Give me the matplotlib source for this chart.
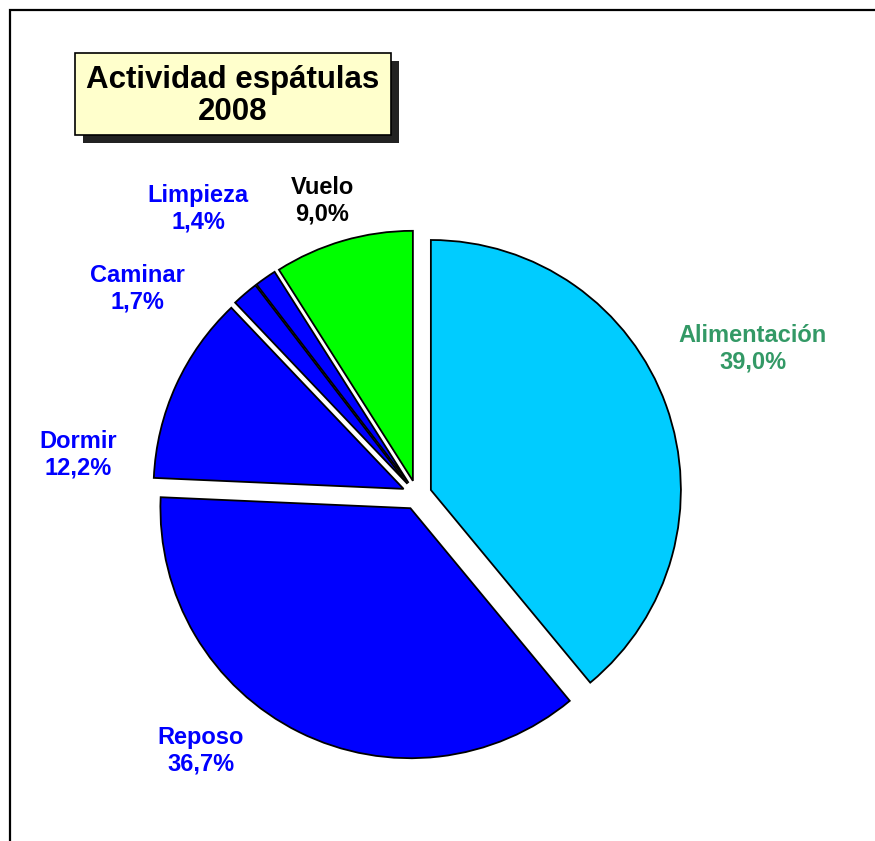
import matplotlib
matplotlib.use("Agg")
import matplotlib.pyplot as plt
from matplotlib.patches import Rectangle

plt.rcParams['font.family'] = ['Liberation Sans', 'DejaVu Sans']

# data
labels = ["Alimentación", "Reposo", "Dormir", "Caminar", "Limpieza", "Vuelo"]
values = [39.0, 36.7, 12.2, 1.7, 1.4, 9.0]
colors = ["#00CCFF", "#0000FF", "#0000FF", "#0000FF", "#0000FF", "#00FF00"]
text_colors = ["#339966", "#0000FF", "#0000FF", "#0000FF", "#0000FF", "#000000"]
# label centres in pixels (x, y from top)
label_pos = [(753, 349), (201, 751), (78, 455), (137, 289), (198, 209), (322, 201)]

W, H = 875, 841
R = 250
fig = plt.figure(figsize=(W / 100, H / 100), dpi=100)
ax = fig.add_axes([0, 0, 1, 1])

wedges, _ = ax.pie(values, colors=colors, startangle=90, counterclock=False,
                   explode=[14.75] * len(values), radius=R, center=(417, H - 495),
                   wedgeprops=dict(edgecolor="black", linewidth=1.3),
                   frame=True)
ax.set_xlim(0, W)
ax.set_ylim(0, H)
ax.set_aspect("equal")
ax.axis("off")

for lab, v, c, (x, y) in zip(labels, values, text_colors, label_pos):
    txt = f"{lab}\n{v:.1f}%".replace(".", ",")
    ax.text(x, H - y, txt, ha="center", va="center", color=c,
            fontsize=17, fontweight="bold", linespacing=1.22)

# chart area border (left and top)
ax.plot([9.5, 9.5, W], [0, H - 10, H - 10], color="black", lw=1.6,
        solid_joinstyle="miter", clip_on=False)

# title box with shadow
bx, by, bw, bh = 75, 53, 316, 82
ax.add_patch(Rectangle((bx + 8, H - by - bh - 8), bw, bh, facecolor="#222222",
                       edgecolor="none", zorder=5))
ax.add_patch(Rectangle((bx, H - by - bh), bw, bh, facecolor="#FFFFCC",
                       edgecolor="black", lw=1.2, zorder=6))
ax.text(bx + bw / 2, H - by - bh / 2 - 2, "Actividad espátulas\n2008", ha="center",
        va="center", fontsize=22.5, fontweight="bold", color="black",
        linespacing=1.07, zorder=7)

fig.savefig("out.png", dpi=100)
